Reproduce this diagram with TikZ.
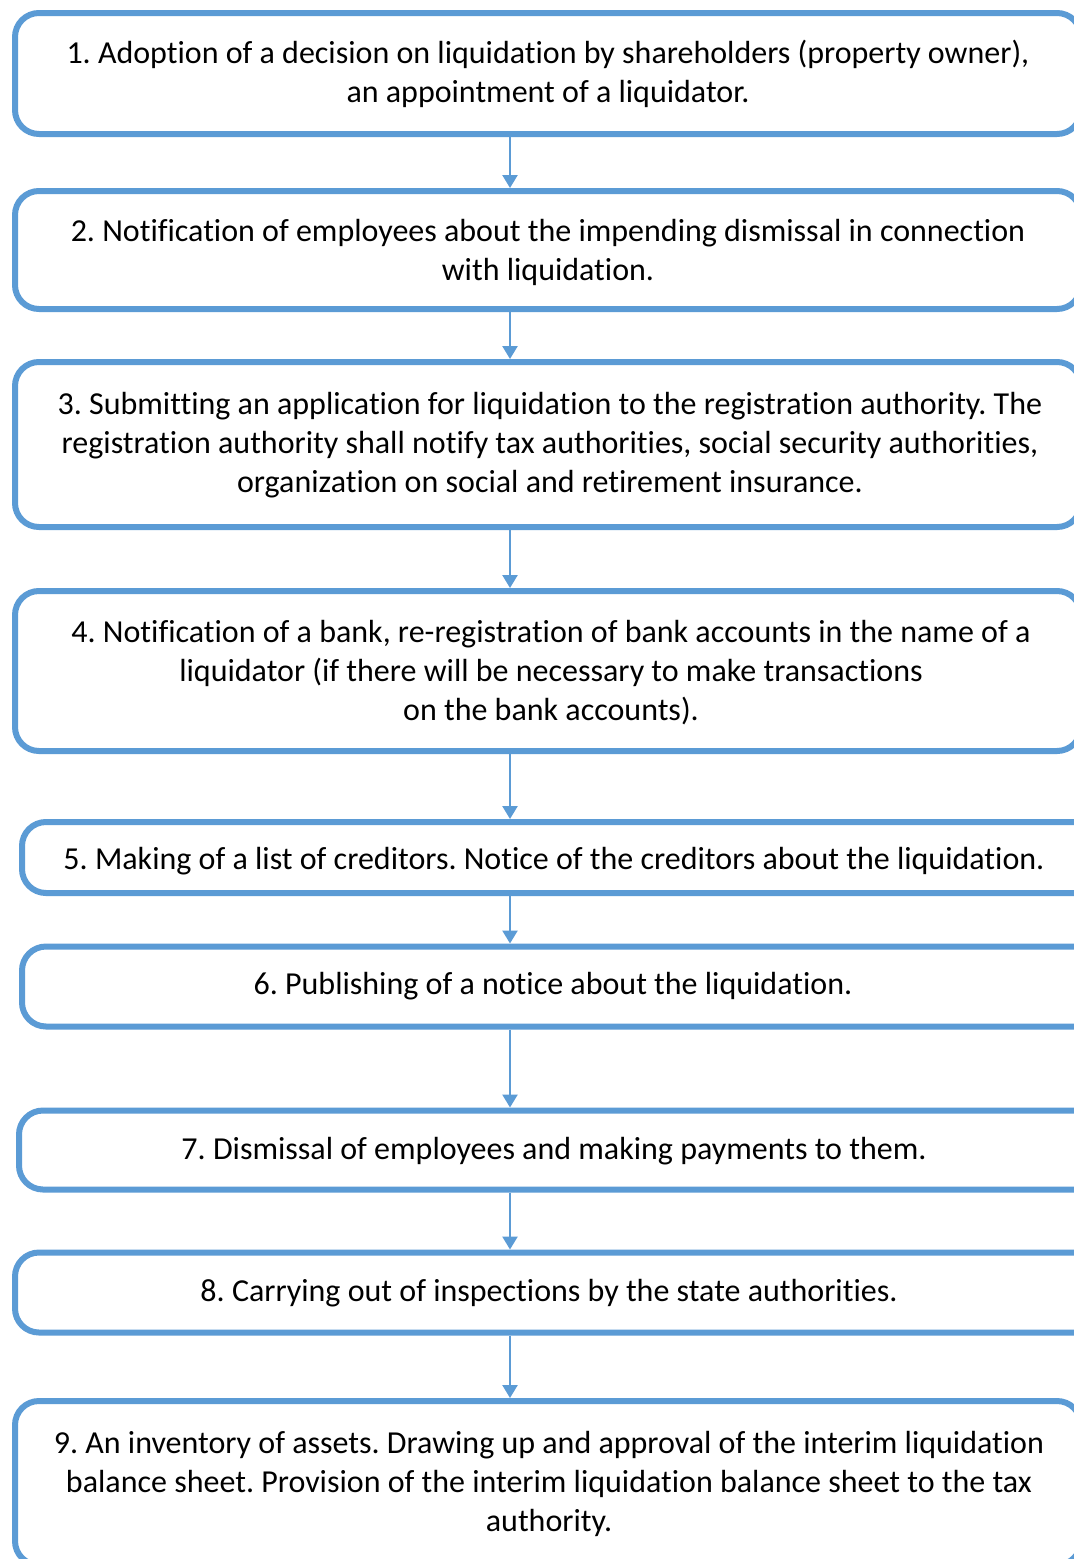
\documentclass[tikz,border=0pt]{standalone}
\usepackage{fontspec}
\setmainfont{Carlito}[Ligatures={NoCommon,NoRequired,NoContextual}]
\usetikzlibrary{arrows.meta}
\definecolor{boxblue}{HTML}{5B9BD5}
\frenchspacing
\begin{document}
\begin{tikzpicture}[x=1pt,y=-1pt,
  box/.style={draw=boxblue, line width=6pt, rounded corners=24pt, fill=white, inner sep=0pt},
  txt/.style={align=center, font=\fontsize{32}{39}\selectfont\frenchspacing, inner sep=0pt},
  arr/.style={draw=boxblue, line width=2.5pt, -{Triangle[width=15pt,length=13pt]}}]
\useasboundingbox (0,0) rectangle (1074,1559);
\clip (0,0) rectangle (1074,1559);
\fill[white] (0,0) rectangle (1074,1559);
% boxes: centre x = (left+right)/2, centre y = (top+bottom)/2
\node[box, minimum width=1066pt, minimum height=121pt] (b1) at (548,73.5) {};
\node[box, minimum width=1066pt, minimum height=118pt] (b2) at (548,250) {};
\node[box, minimum width=1066pt, minimum height=165pt] (b3) at (548,444.5) {};
\node[box, minimum width=1066pt, minimum height=160pt] (b4) at (548,671) {};
\node[box, minimum width=1100pt, minimum height=71pt] (b5) at (572,857.5) {};
\node[box, minimum width=1100pt, minimum height=80pt] (b6) at (572,986.5) {};
\node[box, minimum width=1100pt, minimum height=79pt] (b7) at (569,1150) {};
\node[box, minimum width=1100pt, minimum height=80pt] (b8) at (565,1292.5) {};
\node[box, minimum width=1066pt, minimum height=164pt] (b9) at (548,1483) {};
% texts
\node[txt] (t1) at (548,74) {1. Adoption of a decision on liquidation by shareholders (property owner),\\an appointment of a liquidator.};
\node[txt] (t2) at (548,252) {2. Notification of employees about the impending dismissal in connection\\with liquidation.};
\node[txt] (t3) at (550,445) {3. Submitting an application for liquidation to the registration authority. The\\registration authority shall notify tax authorities, social security authorities,\\organization on social and retirement insurance.};
\node[txt] (t4) at (551,673) {4. Notification of a bank, re-registration of bank accounts in the name of a\\liquidator (if there will be necessary to make transactions\\on the bank accounts).};
\node[txt] (t5) at (554,861) {5. Making of a list of creditors. Notice of the creditors about the liquidation.};
\node[txt] (t6) at (553,986) {6. Publishing of a notice about the liquidation.};
\node[txt] (t7) at (554,1151) {7. Dismissal of employees and making payments to them.};
\node[txt] (t8) at (549,1293) {8. Carrying out of inspections by the state authorities.};
\node[txt] (t9) at (549,1484) {9. An inventory of assets. Drawing up and approval of the interim liquidation\\balance sheet. Provision of the interim liquidation balance sheet to the tax\\authority.};
% arrows
\coordinate (ax) at (510,0);
\draw[arr] (b1.south -| ax) -- (b2.north -| ax);
\draw[arr] (b2.south -| ax) -- (b3.north -| ax);
\draw[arr] (b3.south -| ax) -- (b4.north -| ax);
\draw[arr] (b4.south -| ax) -- (b5.north -| ax);
\draw[arr] (b5.south -| ax) -- (b6.north -| ax);
\draw[arr] (b6.south -| ax) -- (b7.north -| ax);
\draw[arr] (b7.south -| ax) -- (b8.north -| ax);
\draw[arr] (b8.south -| ax) -- (b9.north -| ax);
\end{tikzpicture}
\end{document}
